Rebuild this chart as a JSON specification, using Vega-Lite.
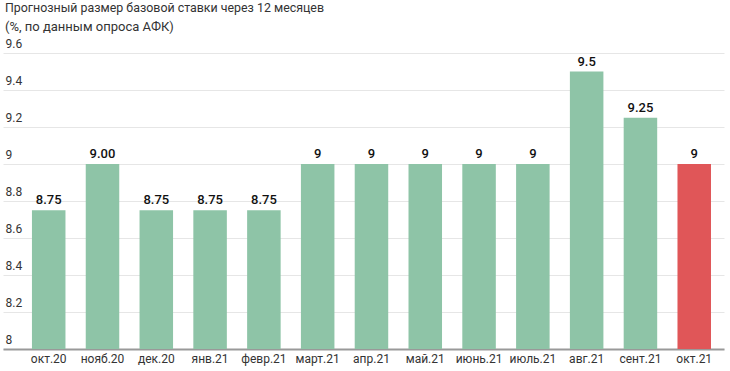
{
  "$schema": "https://vega.github.io/schema/vega-lite/v6.json",
  "autosize": "none",
  "width": 721,
  "height": 296,
  "padding": {"left": 3, "top": 53, "right": 6, "bottom": 22},
  "background": "white",
  "title": {
    "text": "Прогнозный размер базовой ставки через 12 месяцев",
    "subtitle": "(%, по данным опроса АФК)",
    "anchor": "start",
    "frame": "group",
    "font": "Roboto",
    "fontSize": 12.4,
    "fontWeight": "normal",
    "color": "#333333",
    "subtitleFont": "Roboto",
    "subtitleFontSize": 13,
    "subtitleColor": "#333333",
    "subtitlePadding": 7,
    "offset": 3,
    "dx": 2
  },
  "config": {
    "view": {"stroke": null},
    "font": "Roboto"
  },
  "data": {
    "values": [
      {"month": "окт.20", "value": 8.75, "label": "8.75", "hl": "no"},
      {"month": "нояб.20", "value": 9.0, "label": "9.00", "hl": "no"},
      {"month": "дек.20", "value": 8.75, "label": "8.75", "hl": "no"},
      {"month": "янв.21", "value": 8.75, "label": "8.75", "hl": "no"},
      {"month": "февр.21", "value": 8.75, "label": "8.75", "hl": "no"},
      {"month": "март.21", "value": 9.0, "label": "9", "hl": "no"},
      {"month": "апр.21", "value": 9.0, "label": "9", "hl": "no"},
      {"month": "май.21", "value": 9.0, "label": "9", "hl": "no"},
      {"month": "июнь.21", "value": 9.0, "label": "9", "hl": "no"},
      {"month": "июль.21", "value": 9.0, "label": "9", "hl": "no"},
      {"month": "авг.21", "value": 9.5, "label": "9.5", "hl": "no"},
      {"month": "сент.21", "value": 9.25, "label": "9.25", "hl": "no"},
      {"month": "окт.21", "value": 9.0, "label": "9", "hl": "yes"}
    ]
  },
  "encoding": {
    "x": {
      "field": "month",
      "type": "nominal",
      "sort": null,
      "scale": {"paddingInner": 0.377, "paddingOuter": 0.39, "align": 0.69},
      "axis": {
        "title": null,
        "labelAngle": 0,
        "ticks": false,
        "labelFontSize": 12,
        "labelColor": "#333333",
        "labelPadding": 4,
        "domainColor": "#999999",
        "domainWidth": 2,
        "grid": false
      }
    },
    "y": {
      "field": "value",
      "type": "quantitative",
      "scale": {"domain": [8, 9.6], "nice": false, "zero": false},
      "axis": {
        "title": null,
        "values": [8, 8.2, 8.4, 8.6, 8.8, 9, 9.2, 9.4, 9.6],
        "format": "~f",
        "domain": false,
        "ticks": false,
        "labelAlign": "left",
        "labelBaseline": "bottom",
        "labelPadding": -2,
        "labelOffset": -3,
        "labelFontSize": 12,
        "labelColor": "#333333",
        "gridColor": "#e6e6e6",
        "gridWidth": 1
      }
    }
  },
  "layer": [
    {
      "mark": {"type": "bar", "clip": true},
      "encoding": {
        "color": {
          "field": "hl",
          "type": "nominal",
          "scale": {"domain": ["no", "yes"], "range": ["#8ec4a7", "#e05658"]},
          "legend": null
        }
      }
    },
    {
      "mark": {"type": "text", "baseline": "bottom", "dy": -3, "fontSize": 13, "fontWeight": 500, "color": "#111111"},
      "encoding": {"text": {"field": "label"}}
    }
  ]
}
